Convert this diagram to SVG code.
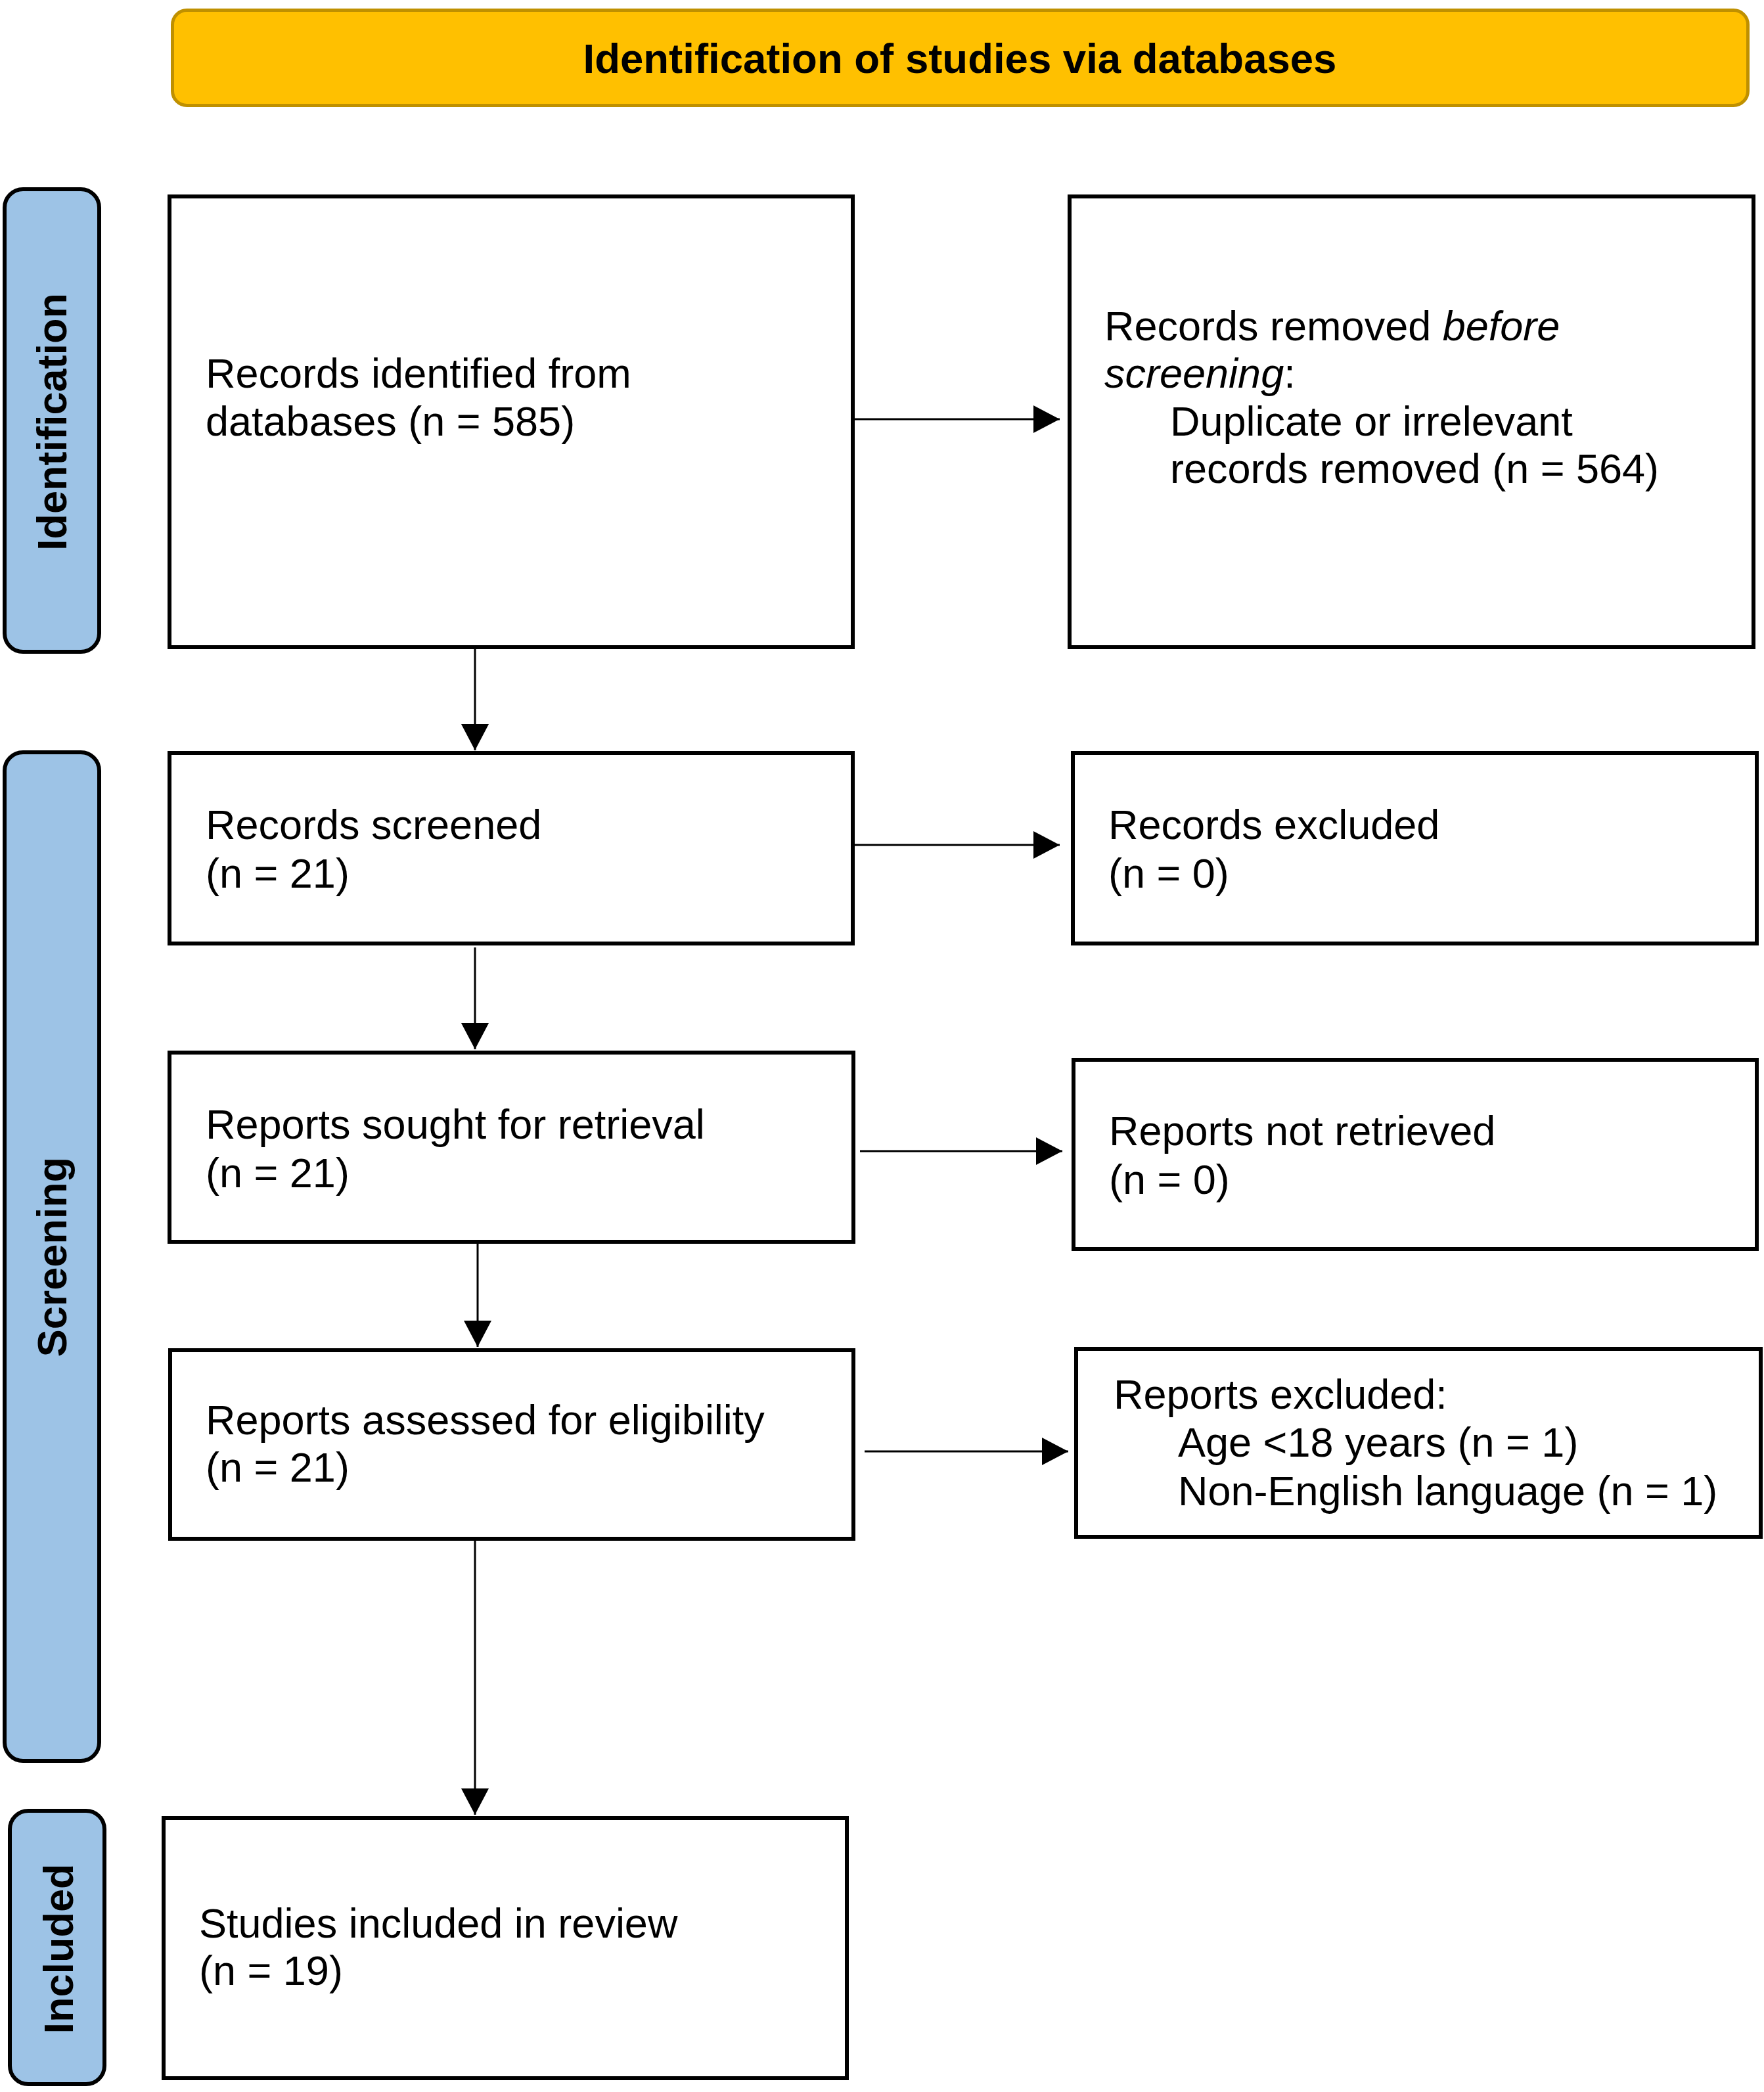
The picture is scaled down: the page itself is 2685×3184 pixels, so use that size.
<svg xmlns="http://www.w3.org/2000/svg" width="2685" height="3184" viewBox="0 0 2685 3184">
<style>
.box{fill:#fff;stroke:#000;stroke-width:6}
.side{fill:#9DC3E6;stroke:#000;stroke-width:6}
.t{font-family:"Liberation Sans",Arial,sans-serif;font-size:63px;fill:#000}
.b{font-family:"Liberation Sans",Arial,sans-serif;font-size:63px;font-weight:bold;fill:#000}
.c{stroke:#000;stroke-width:3;fill:none}
</style>
<defs>
<marker id="ah" markerWidth="40" markerHeight="42" refX="40" refY="21" orient="auto" markerUnits="userSpaceOnUse">
<path d="M0,0 L40,21 L0,42 Z" fill="#000"/>
</marker>
</defs>
<rect width="2685" height="3184" fill="#fff"/>
<g id="header">
<rect x="262.5" y="15.5" width="2398" height="145" rx="22" fill="#FFC000" stroke="#BF9000" stroke-width="5"/>
<text class="b" x="1461" y="111" text-anchor="middle" style="font-size:63.5px">Identification of studies via databases</text>
</g>
<g id="side-identification">
<rect class="side" x="7" y="288" width="144" height="704" rx="28"/>
<text class="b" transform="translate(101,642) rotate(-90)" text-anchor="middle">Identification</text>
</g>
<g id="side-screening">
<rect class="side" x="7" y="1145" width="144" height="1535" rx="28"/>
<text class="b" transform="translate(101,1913) rotate(-90)" text-anchor="middle">Screening</text>
</g>
<g id="side-included">
<rect class="side" x="15" y="2756" width="144" height="416" rx="28"/>
<text class="b" transform="translate(111,2966) rotate(-90)" text-anchor="middle">Included</text>
</g>
<g id="n1">
<rect class="box" x="258" y="299" width="1040" height="686"/>
<text class="t" x="313" y="590">Records identified from</text>
<text class="t" x="313" y="663">databases (n = 585)</text>
</g>
<g id="n2">
<rect class="box" x="1628" y="299" width="1041" height="686"/>
<text class="t" x="1681" y="518">Records removed <tspan font-style="italic">before</tspan></text>
<text class="t" x="1681" y="590"><tspan font-style="italic">screening</tspan>:</text>
<text class="t" x="1781" y="663">Duplicate or irrelevant</text>
<text class="t" x="1781" y="735">records removed (n = 564)</text>
</g>
<g id="n3">
<rect class="box" x="258" y="1146" width="1040" height="290"/>
<text class="t" x="313" y="1277">Records screened</text>
<text class="t" x="313" y="1351">(n = 21)</text>
</g>
<g id="n4">
<rect class="box" x="1633" y="1146" width="1041" height="290"/>
<text class="t" x="1687" y="1277">Records excluded</text>
<text class="t" x="1687" y="1351">(n = 0)</text>
</g>
<g id="n5">
<rect class="box" x="258" y="1602" width="1041" height="288"/>
<text class="t" x="313" y="1733">Reports sought for retrieval</text>
<text class="t" x="313" y="1807">(n = 21)</text>
</g>
<g id="n6">
<rect class="box" x="1634" y="1613" width="1040" height="288"/>
<text class="t" x="1688" y="1743">Reports not retrieved</text>
<text class="t" x="1688" y="1817">(n = 0)</text>
</g>
<g id="n7">
<rect class="box" x="259" y="2055" width="1040" height="287"/>
<text class="t" x="313" y="2183">Reports assessed for eligibility</text>
<text class="t" x="313" y="2255">(n = 21)</text>
</g>
<g id="n8">
<rect class="box" x="1638" y="2053" width="1042" height="286"/>
<text class="t" x="1695" y="2144">Reports excluded:</text>
<text class="t" x="1793" y="2217">Age &lt;18 years (n = 1)</text>
<text class="t" x="1793" y="2291">Non-English language (n = 1)</text>
</g>
<g id="n9">
<rect class="box" x="249" y="2767" width="1040" height="396"/>
<text class="t" x="303" y="2949">Studies included in review</text>
<text class="t" x="303" y="3021">(n = 19)</text>
</g>
<g id="connectors">
<line class="c" x1="1301" y1="638" x2="1613" y2="638" marker-end="url(#ah)"/>
<line class="c" x1="1301" y1="1286" x2="1613" y2="1286" marker-end="url(#ah)"/>
<line class="c" x1="1309" y1="1752" x2="1617" y2="1752" marker-end="url(#ah)"/>
<line class="c" x1="1316" y1="2209" x2="1626" y2="2209" marker-end="url(#ah)"/>
<line class="c" x1="723" y1="988" x2="723" y2="1142" marker-end="url(#ah)"/>
<line class="c" x1="723" y1="1442" x2="723" y2="1597" marker-end="url(#ah)"/>
<line class="c" x1="727" y1="1893" x2="727" y2="2050" marker-end="url(#ah)"/>
<line class="c" x1="723" y1="2345" x2="723" y2="2762" marker-end="url(#ah)"/>
</g>
</svg>
